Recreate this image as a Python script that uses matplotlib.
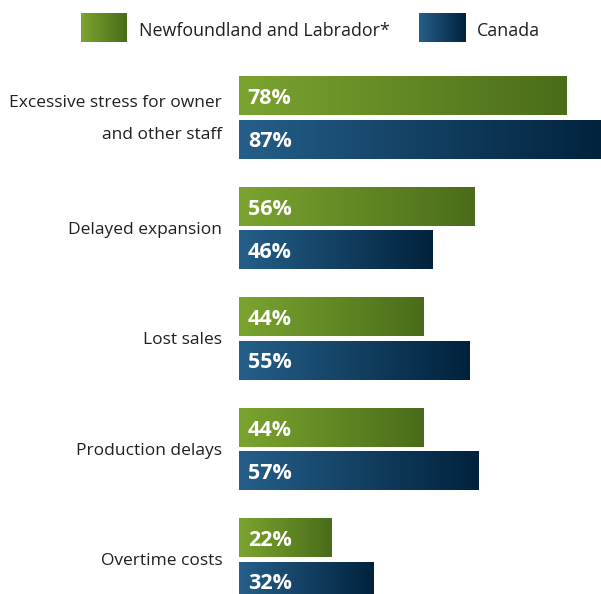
import matplotlib.pyplot as plt
import numpy as np
from matplotlib.colors import LinearSegmentedColormap

categories = ["Excessive stress for owner\nand other staff", "Delayed expansion",
              "Lost sales", "Production delays", "Overtime costs"]
nl_vals = [78, 56, 44, 44, 22]
ca_vals = [87, 46, 55, 57, 32]
series_names = ["Newfoundland and Labrador*", "Canada"]

plt.rcParams['font.family'] = ['Open Sans', 'DejaVu Sans']

green = LinearSegmentedColormap.from_list("g", ["#7ba42f", "#4a6c1a"])
blue = LinearSegmentedColormap.from_list("b", ["#255f89", "#01223d"])
grad = np.linspace(0, 1, 256).reshape(1, -1)

fig = plt.figure(figsize=(6.01, 5.94), dpi=100)
ax = fig.add_axes([239 / 601, 0, 1 - 239 / 601, 1])
ax.set_xlim(0, 86.2)
ax.set_ylim(4.308, -1.068)
ax.axis('off')

h = 0.344
off = 0.195
for i, (a, b) in enumerate(zip(nl_vals, ca_vals)):
    for v, cmap, yc in [(a, green, i - off), (b, blue, i + off)]:
        ax.imshow(grad, cmap=cmap, extent=[0, v, yc + h / 2, yc - h / 2],
                  aspect='auto', interpolation='bilinear')
        ax.text(2.1, yc + 0.02, f"{v}%", color='white', fontsize=15.5,
                fontweight='bold', va='center', ha='left')
    ax.text(-4.0, i + 0.01, categories[i], ha='right', va='center', fontsize=12.5,
            color='#231f20', linespacing=2.35)

# legend swatches
for x0, cmap, name in [(81, green, series_names[0]), (419, blue, series_names[1])]:
    lax = fig.add_axes([x0 / 601, 1 - 42 / 594, 46 / 601, 29 / 594])
    lax.imshow(grad, cmap=cmap, aspect='auto', interpolation='bilinear')
    lax.axis('off')
    fig.text((x0 + 58) / 601, 1 - 31 / 594, name, ha='left', va='center',
             fontsize=12.9, color='#231f20')

fig.savefig("out.png", dpi=100)
